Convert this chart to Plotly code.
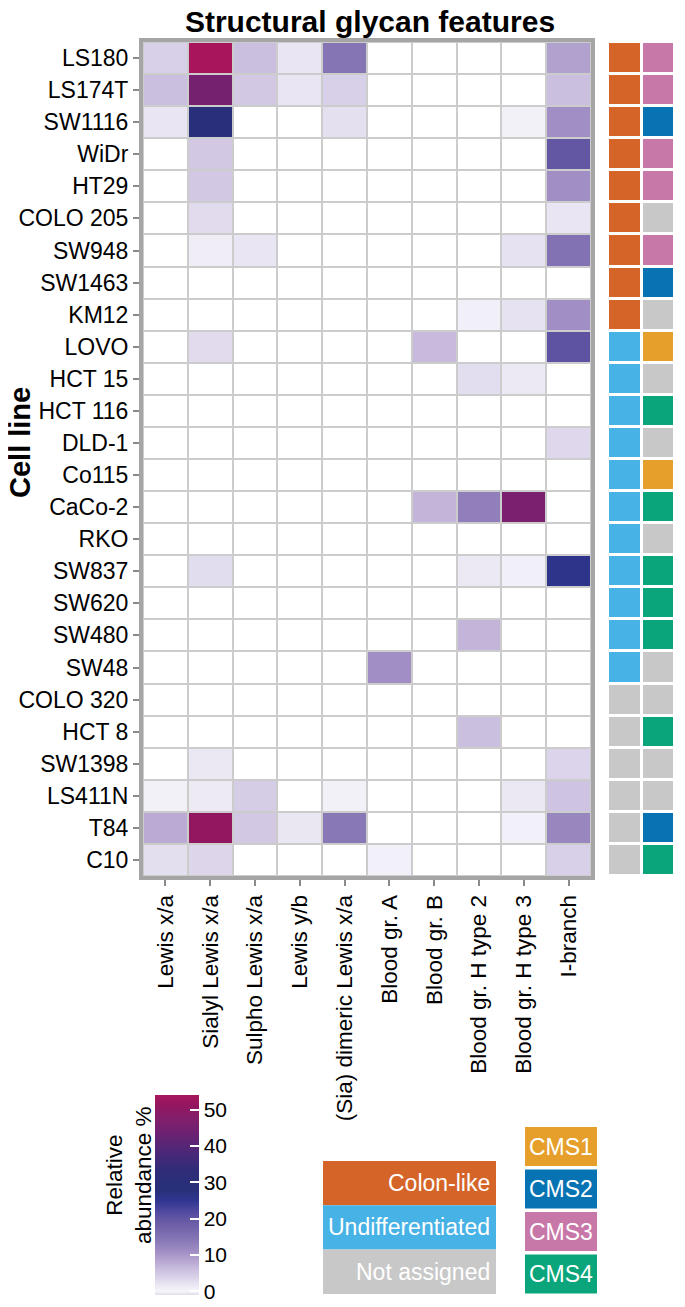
import plotly.graph_objects as go

cell_lines = ["LS180", "LS174T", "SW1116", "WiDr", "HT29", "COLO 205", "SW948", "SW1463",
              "KM12", "LOVO", "HCT 15", "HCT 116", "DLD-1", "Co115", "CaCo-2", "RKO",
              "SW837", "SW620", "SW480", "SW48", "COLO 320", "HCT 8", "SW1398", "LS411N",
              "T84", "C10"]
features = ["Lewis x/a", "Sialyl Lewis x/a", "Sulpho Lewis x/a", "Lewis y/b",
            "(Sia) dimeric Lewis x/a", "Blood gr. A", "Blood gr. B", "Blood gr. H type 2",
            "Blood gr. H type 3", "I-branch"]
N = None
abundance = [
    [4.0, 54.0, 6.0, 2.0, 14.5, N, N, N, N, 9.0],      # LS180
    [6.0, 45.0, 5.0, 2.0, 4.0, N, N, N, N, 6.0],       # LS174T
    [2.0, 29.0, N, N, 2.5, N, N, N, 0.5, 11.0],        # SW1116
    [N, 5.0, N, N, N, N, N, N, N, 20.0],               # WiDr
    [N, 5.0, N, N, N, N, N, N, N, 11.0],               # HT29
    [N, 3.0, N, N, N, N, N, N, N, 2.0],                # COLO 205
    [N, 1.0, 2.0, N, N, N, N, N, 2.3, 15.0],           # SW948
    [N, N, N, N, N, N, N, N, N, N],                    # SW1463
    [N, N, N, N, N, N, N, 0.7, 2.3, 11.0],             # KM12
    [N, 3.0, N, N, N, N, 6.5, N, N, 20.5],             # LOVO
    [N, N, N, N, N, N, N, 2.7, 1.5, N],                # HCT 15
    [N, N, N, N, N, N, N, N, N, N],                    # HCT 116
    [N, N, N, N, N, N, N, N, N, 3.2],                  # DLD-1
    [N, N, N, N, N, N, N, N, N, N],                    # Co115
    [N, N, N, N, N, N, 7.0, 13.0, 46.0, N],            # CaCo-2
    [N, N, N, N, N, N, N, N, N, N],                    # RKO
    [N, 2.8, N, N, N, N, N, 1.5, 0.8, 26.0],           # SW837
    [N, N, N, N, N, N, N, N, N, N],                    # SW620
    [N, N, N, N, N, N, N, 7.0, N, N],                  # SW480
    [N, N, N, N, N, 11.0, N, N, N, N],                 # SW48
    [N, N, N, N, N, N, N, N, N, N],                    # COLO 320
    [N, N, N, N, N, N, N, 6.0, N, N],                  # HCT 8
    [N, 1.7, N, N, N, N, N, N, N, 3.6],                # SW1398
    [0.5, 1.4, 4.5, N, 0.5, N, N, N, 1.7, 5.5],        # LS411N
    [8.0, 51.0, 5.0, 1.8, 14.0, N, N, N, 0.6, 12.0],   # T84
    [2.6, 3.4, N, N, N, 0.6, N, N, N, 4.0],            # C10
]

subtype = ["Colon-like"] * 9 + ["Undifferentiated"] * 11 + ["Not assigned"] * 6
cms = ["CMS3", "CMS3", "CMS2", "CMS3", "CMS3", "NA", "CMS3", "CMS2", "NA",
       "CMS1", "NA", "CMS4", "NA", "CMS1", "CMS4", "NA", "CMS4", "CMS4", "CMS4", "NA",
       "NA", "CMS4", "NA", "NA", "CMS2", "CMS4"]
annot_cols = ["Subtype", "CMS"]

subtype_labels = ["Colon-like", "Undifferentiated", "Not assigned"]
cms_labels = ["CMS1", "CMS2", "CMS3", "CMS4"]
cat_colors = {"Colon-like": "#d56428", "Undifferentiated": "#47b2e6", "Not assigned": "#c8c8c8",
              "NA": "#c8c8c8", "CMS1": "#e69f2a", "CMS2": "#0873b3", "CMS3": "#c878a8",
              "CMS4": "#0aa57a"}

cb_ticks = [0, 10, 20, 30, 40, 50]
zmin, zmax = -1, 54
stops = [(-1, "#e2ddee"), (0, "#f6f5fa"), (2, "#e9e5f2"), (4, "#d8d0e8"), (6, "#cbbfdf"),
         (8, "#baaad4"), (11, "#a08ec4"), (14, "#8878b6"), (17, "#7566ac"), (20, "#6356a2"),
         (22, "#5048a0"), (25, "#2f3690"), (28, "#28307a"), (33, "#2f2c78"), (38, "#4a2878"),
         (43, "#6a2272"), (47, "#801f6c"), (51, "#921760"), (54, "#a8155c")]
colorscale = [[(v - zmin) / (zmax - zmin), c] for v, c in stops]

# page has an 8px body margin; lay out in page pixels and convert
OFF = 8
W, H = 685 - OFF, 1307 - OFF


def px(x):
    return (x - OFF) / W


def py(y):
    return 1 - (y - OFF) / H


FONT = "Liberation Sans, Arial, sans-serif"

fig = go.Figure()

# white underlay cells for the main grid
fig.add_trace(go.Heatmap(
    z=[[0] * len(features) for _ in cell_lines], x=features, y=cell_lines,
    colorscale=[[0, "white"], [1, "white"]], showscale=False, xgap=2, ygap=2,
    hoverinfo="skip"))
# data
fig.add_trace(go.Heatmap(
    z=abundance, x=features, y=cell_lines, colorscale=colorscale, zmin=zmin, zmax=zmax,
    xgap=2, ygap=2,
    colorbar=dict(
        x=px(155), xanchor="left", xpad=0, ypad=0,
        y=py(1195), yanchor="middle", len=200, lenmode="pixels", thickness=44,
        outlinewidth=0, tickvals=cb_ticks, ticks="inside", ticklen=9, tickwidth=1.5,
        tickcolor="white", tickfont=dict(size=21, color="black", family=FONT),
    )))

# annotation columns
order = ["Colon-like", "Undifferentiated", "Not assigned", "CMS1", "CMS2", "CMS3", "CMS4"]
codes = {k: i for i, k in enumerate(order)}
codes["NA"] = codes["Not assigned"]
nc = len(order)
ann_scale = []
for i, k in enumerate(order):
    ann_scale.append([i / nc, cat_colors[k]])
    ann_scale.append([(i + 1) / nc, cat_colors[k]])
annot_z = [[codes[s], codes[c]] for s, c in zip(subtype, cms)]
fig.add_trace(go.Heatmap(
    z=[[0, 0] for _ in cell_lines], x=annot_cols, y=cell_lines, xaxis="x2", yaxis="y",
    colorscale=[[0, "white"], [1, "white"]], showscale=False, hoverinfo="skip"))
fig.add_trace(go.Heatmap(
    z=annot_z, x=annot_cols, y=cell_lines, xaxis="x2", yaxis="y",
    colorscale=ann_scale, zmin=-0.5, zmax=nc - 0.5, showscale=False, xgap=3, ygap=3))

fig.update_layout(
    width=W, height=H, margin=dict(l=0, r=0, t=0, b=0),
    paper_bgcolor="white", plot_bgcolor="#cccccc",
    font=dict(family=FONT, color="black"),
    xaxis=dict(domain=[px(143), px(591)], type="category", tickangle=-90,
               tickfont=dict(size=22.5), ticks="outside", ticklen=6, tickwidth=2,
               tickcolor="#8a8a8a", showline=True, linecolor="#a5a5a5", linewidth=4,
               mirror=True, showgrid=False, zeroline=False, anchor="y"),
    yaxis=dict(domain=[py(876), py(42)], type="category", autorange="reversed",
               tickfont=dict(size=23), ticks="outside", ticklen=6, tickwidth=2,
               tickcolor="#8a8a8a", showline=True, linecolor="#a5a5a5", linewidth=4,
               mirror=True, showgrid=False, zeroline=False, anchor="x"),
    xaxis2=dict(domain=[px(608), px(675)], type="category", showticklabels=False,
                ticks="", showline=False, showgrid=False, zeroline=False, anchor="y"),
    title=dict(text="<b>Structural glycan features</b>", x=px(370), xanchor="center",
               y=py(21), yanchor="middle", font=dict(size=30, family=FONT)),
)

# axis title and colorbar title
fig.add_annotation(text="<b>Cell line</b>", x=px(20), y=py(443), xref="paper",
                   yref="paper", textangle=-90, showarrow=False, xanchor="center",
                   yanchor="middle", font=dict(size=29, family=FONT))
fig.add_annotation(text="Relative<br>abundance %", x=px(129), y=py(1175),
                   xref="paper", yref="paper", textangle=-90, showarrow=False,
                   xanchor="center", yanchor="middle", font=dict(size=22.5, family=FONT))

# legends for subtype and CMS (paper-positioned legend boxes)
sub_top, sub_h = 1161, 44.3
for i, lab in enumerate(subtype_labels):
    y0 = sub_top + i * sub_h
    fig.add_shape(type="rect", xref="paper", yref="paper", x0=px(323), x1=px(496),
                  y0=py(y0), y1=py(y0 + sub_h), fillcolor=cat_colors[lab],
                  line=dict(width=0), layer="above")
    fig.add_annotation(text=lab, x=px(492), y=py(y0 + sub_h / 2), xref="paper",
                       yref="paper", xanchor="right", yanchor="middle", showarrow=False,
                       font=dict(size=23, color="white", family=FONT))
cms_top, cms_h, cms_step = 1127, 39, 42.5
for i, lab in enumerate(cms_labels):
    y0 = cms_top + i * cms_step
    fig.add_shape(type="rect", xref="paper", yref="paper", x0=px(525), x1=px(597),
                  y0=py(y0), y1=py(y0 + cms_h), fillcolor=cat_colors[lab],
                  line=dict(width=0), layer="above")
    fig.add_annotation(text=lab, x=px(561), y=py(y0 + cms_h / 2), xref="paper",
                       yref="paper", xanchor="center", yanchor="middle", showarrow=False,
                       font=dict(size=23, color="white", family=FONT))

fig.write_html("out.html")
